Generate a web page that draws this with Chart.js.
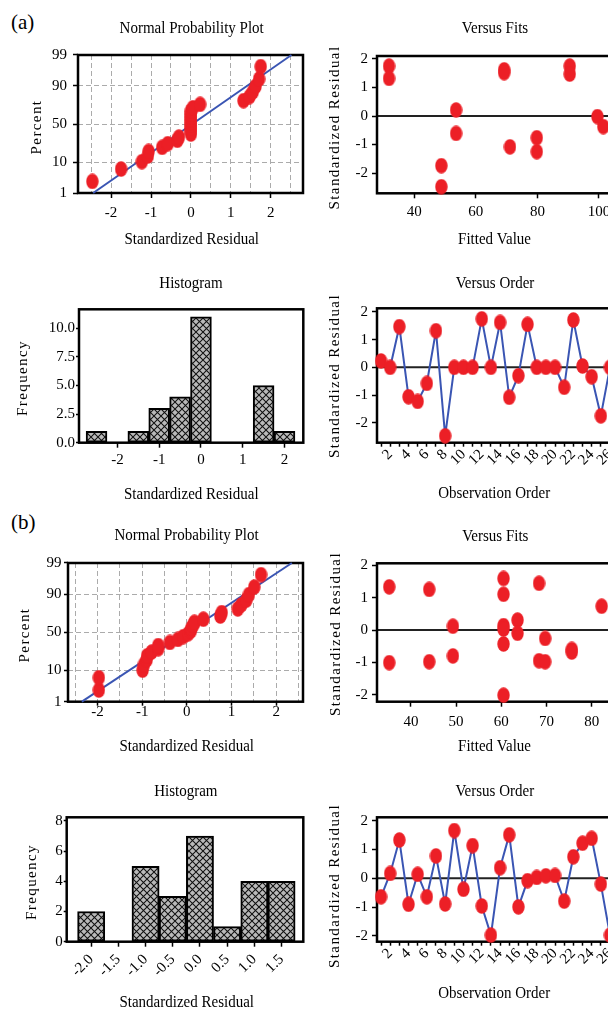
<!DOCTYPE html>
<html><head><meta charset="utf-8">
<script src="https://cdn.jsdelivr.net/npm/chart.js@4.4.1/dist/chart.umd.min.js"></script>
<style>
html,body{margin:0;padding:0;background:#fff;overflow:hidden;}
body{width:608px;height:1010px;position:relative;font-family:"Liberation Serif",serif;}
canvas{position:absolute;}
.pl{position:absolute;font:21px/21px "Liberation Serif",serif;color:#000;}
</style></head><body>
<div class="pl" style="left:11px;top:12px">(a)</div>
<div class="pl" style="left:11px;top:512px">(b)</div>
<script>
// ---------------- data ----------------
const npPercent = [2.65, 6.44, 10.23, 14.02, 17.80, 21.59, 25.38, 29.17, 32.95, 36.74, 40.53, 44.32, 48.11,
                   51.89, 55.68, 59.47, 63.26, 67.05, 70.83, 74.62, 78.41, 82.20, 85.98, 89.77, 93.56, 97.35];
const pctTickValues = [1, 10, 50, 90, 99];
const pctTickLabels = ['1', '10', '50', '90', '99'];
const npXTicks  = [-2.5, -2, -1.5, -1, -0.5, 0, 0.5, 1, 1.5, 2, 2.5];
const npXLabels = ['', '-2', '', '-1', '', '0', '', '1', '', '2', ''];
const resTicks  = [-2, -1, 0, 1, 2];
const resLabels = ['-2', '-1', '0', '1', '2'];
const obsTicks  = [1,2,3,4,5,6,7,8,9,10,11,12,13,14,15,16,17,18,19,20,21,22,23,24,25,26];
const obsLabels = ['','2','','4','','6','','8','','10','','12','','14','','16','','18','','20','','22','','24','','26'];

// (a) normal probability plot
const npA_residual = [-2.47, -1.75, -1.23, -1.08, -1.06, -0.72, -0.58, -0.34, -0.30, 0, 0, 0, 0, 0, 0, 0, 0, 0,
                      0.05, 0.23, 1.32, 1.47, 1.55, 1.62, 1.71, 1.75];
const npA_fitX = [-2.45, 2.52];
const npA_fitPct = [1, 99];
// (a) versus fits
const vfA_fitted   = [31.8, 31.8, 69.2, 69.2, 90.5, 90.5, 53.6, 53.6, 71.1, 79.8, 79.8, 48.8, 48.8, 99.5, 101.4];
const vfA_residual = [1.75, 1.32, 1.62, 1.52, 1.75, 1.47, 0.21, -0.61, -1.08, -0.76, -1.25, -1.74, -2.48, -0.02, -0.37];
const vfA_xTicks = [40, 60, 80, 100];
const vfA_xLabels = ['40', '60', '80', '100'];
// (a) histogram
const histA_bins   = [-2.5, -2, -1.5, -1, -0.5, 0, 0.5, 1, 1.5, 2];
const histA_counts = [1, 0, 1, 3, 4, 11, 0, 0, 5, 1];
const histA_xTicks = [-2, -1, 0, 1, 2];
const histA_xLabels = ['-2', '-1', '0', '1', '2'];
const histA_yTicks = [0, 2.5, 5, 7.5, 10];
const histA_yLabels = ['0.0', '2.5', '5.0', '7.5', '10.0'];
// (a) versus order
const voA_residual = [0.23, 0, 1.47, -1.06, -1.23, -0.58, 1.32, -2.47, 0, 0, 0, 1.75, 0, 1.62, -1.08, -0.30,
                      1.55, 0, 0, 0, -0.72, 1.71, 0.05, -0.34, -1.75, 0];

// (b) normal probability plot
const npB_residual = [-1.97, -1.97, -0.99, -0.96, -0.90, -0.89, -0.79, -0.64, -0.64, -0.38, -0.20, -0.08, 0.03,
                      0.09, 0.10, 0.14, 0.17, 0.37, 0.75, 0.78, 1.14, 1.22, 1.33, 1.39, 1.51, 1.66];
const npB_fitX = [-2.35, 2.35];
const npB_fitPct = [1, 99];
// (b) versus fits
const vfB_fitted   = [35.2, 35.2, 44.05, 44.05, 49.3, 49.3, 60.5, 60.5, 60.5, 60.5, 60.5, 60.5, 63.6, 63.6,
                      68.35, 69.7, 68.35, 69.7, 75.6, 75.6, 82.2];
const vfB_residual = [1.34, -1.01, 1.26, -0.98, 0.12, -0.80, 1.60, 1.11, 0.14, 0.03, -0.43, -2.02, 0.31, -0.10,
                      1.45, -0.26, -0.95, -0.98, -0.60, -0.68, 0.74];
const vfB_xTicks = [40, 50, 60, 70, 80];
const vfB_xLabels = ['40', '50', '60', '70', '80'];
// (b) histogram
const histB_bins   = [-2, -1.5, -1, -0.5, 0, 0.5, 1, 1.5];
const histB_counts = [2, 0, 5, 3, 7, 1, 4, 4];
const histB_xLabels = ['-2.0', '-1.5', '-1.0', '-0.5', '0.0', '0.5', '1.0', '1.5'];
const histB_yTicks = [0, 2, 4, 6, 8];
const histB_yLabels = ['0', '2', '4', '6', '8'];
// (b) versus order
const voB_residual = [-0.64, 0.17, 1.33, -0.90, 0.14, -0.64, 0.78, -0.89, 1.66, -0.38, 1.14, -0.96, -1.97, 0.37,
                      1.51, -0.99, -0.08, 0.03, 0.09, 0.10, -0.79, 0.75, 1.22, 1.39, -0.20, -1.97];

// ---------------- helpers ----------------
const FONT = '"Liberation Serif", "Times New Roman", serif';
const RED = '#ec1f26', BLUE = '#3a55b3';

// inverse normal CDF (probability-plot axis transform)
function probit(p) {
  const a = [-3.969683028665376e+01, 2.209460984245205e+02, -2.759285104469687e+02, 1.383577518672690e+02, -3.066479806614716e+01, 2.506628277459239e+00];
  const b = [-5.447609879822406e+01, 1.615858368580409e+02, -1.556989798598866e+02, 6.680131188771972e+01, -1.328068155288572e+01];
  const c = [-7.784894002430293e-03, -3.223964580411365e-01, -2.400758277161838e+00, -2.549732539343734e+00, 4.374664141464968e+00, 2.938163982698783e+00];
  const d = [7.784695709041462e-03, 3.224671290700398e-01, 2.445134137142996e+00, 3.754408661907416e+00];
  const pl = 0.02425, ph = 1 - pl; let q, r;
  if (p < pl) { q = Math.sqrt(-2 * Math.log(p)); return (((((c[0]*q+c[1])*q+c[2])*q+c[3])*q+c[4])*q+c[5]) / ((((d[0]*q+d[1])*q+d[2])*q+d[3])*q+1); }
  if (p > ph) { q = Math.sqrt(-2 * Math.log(1 - p)); return -(((((c[0]*q+c[1])*q+c[2])*q+c[3])*q+c[4])*q+c[5]) / ((((d[0]*q+d[1])*q+d[2])*q+d[3])*q+1); }
  q = p - 0.5; r = q * q;
  return (((((a[0]*r+a[1])*r+a[2])*r+a[3])*r+a[4])*r+a[5])*q / (((((b[0]*r+b[1])*r+b[2])*r+b[3])*r+b[4])*r+1);
}
const pz = pct => probit(pct / 100);

function ellipseDot(w, h, color) {
  const c = document.createElement('canvas'); c.width = w; c.height = h;
  const g = c.getContext('2d'); g.fillStyle = color;
  g.beginPath(); g.ellipse(w / 2, h / 2, w / 2 - 0.3, h / 2 - 0.3, 0, 0, 2 * Math.PI); g.fill();
  return c;
}
const DOT = ellipseDot(13, 16, RED);

function hatchPattern() {
  const c = document.createElement('canvas'); c.width = 7; c.height = 7;
  const g = c.getContext('2d');
  g.fillStyle = '#b9b9b9'; g.fillRect(0, 0, 7, 7);
  g.strokeStyle = '#111'; g.lineWidth = 1.05;
  g.beginPath(); g.moveTo(-1, -1); g.lineTo(8, 8); g.moveTo(-1, 8); g.lineTo(8, -1); g.stroke();
  return g.createPattern(c, 'repeat');
}
const HATCH = hatchPattern();

const framePlugin = {
  id: 'frame',
  beforeDatasetsDraw(chart, args, opts) {
    const { ctx, chartArea: a } = chart;
    if (opts.zero) {
      const y = chart.scales.y.getPixelForValue(0);
      ctx.save(); ctx.strokeStyle = '#222'; ctx.lineWidth = 2;
      ctx.beginPath(); ctx.moveTo(a.left, y); ctx.lineTo(a.right, y); ctx.stroke(); ctx.restore();
    }
    ctx.save(); ctx.strokeStyle = '#000'; ctx.lineWidth = 2.5;
    ctx.strokeRect(a.left, a.top, a.right - a.left, a.bottom - a.top); ctx.restore();
  }
};
const textPlugin = {
  id: 'txt',
  afterDraw(chart, args, opts) {
    const ctx = chart.ctx;
    (opts.items || []).forEach(it => {
      ctx.save();
      ctx.font = (it.size || 15) + 'px ' + FONT;
      ctx.fillStyle = '#000'; ctx.textAlign = 'center'; ctx.textBaseline = 'middle';
      if ('letterSpacing' in ctx) ctx.letterSpacing = (it.ls || 0) + 'px';
      ctx.translate(it.x - opts.ox, it.y - opts.oy);
      if (it.rot) ctx.rotate(it.rot); else ctx.scale(1, 1.18);
      ctx.fillText(it.text, 0, 0);
      ctx.restore();
    });
  }
};

function axis(o, isX, P) {
  return {
    type: 'linear', min: o.min, max: o.max, offset: false,
    afterBuildTicks: sc => { sc.ticks = o.ticks.map(v => ({ value: o.map ? o.map(v) : v })); },
    afterFit: sc => { if (isX) sc.height = P.box.t + P.box.h - P.plot.B; else sc.width = P.plot.L - P.box.l; },
    ticks: {
      autoSkip: false, includeBounds: false, minRotation: o.rot || 0, maxRotation: o.rot || 0,
      padding: o.pad, color: '#000',
      font: { family: FONT, size: 15, lineHeight: o.rot ? 0.1 : 1.2 },
      callback: (v, i) => o.labels[i]
    },
    grid: {
      display: true, offset: false, drawOnChartArea: !!o.dash, drawTicks: true, tickLength: o.tl,
      color: o.dash ? '#ababab' : 'rgba(0,0,0,0)', lineWidth: 1,
      tickColor: ctx => (o.labels[ctx.index] !== '' || o.allMarks) ? '#000' : 'rgba(0,0,0,0)',
      tickWidth: 1.5, tickBorderDash: []
    },
    border: { display: false, dash: o.dash ? [5, 3] : [] }
  };
}

function make(P) {
  const cv = document.createElement('canvas');
  cv.width = P.box.w; cv.height = P.box.h;
  cv.style.left = P.box.l + 'px'; cv.style.top = P.box.t + 'px';
  document.body.appendChild(cv);
  new Chart(cv.getContext('2d'), {
    type: P.type,
    data: { datasets: P.datasets },
    options: {
      responsive: false, animation: false, events: [],
      layout: { padding: { left: 0, bottom: 0, top: P.plot.T - P.box.t, right: P.box.l + P.box.w - P.plot.R } },
      scales: { x: axis(P.x, true, P), y: axis(P.y, false, P) },
      plugins: {
        legend: { display: false }, tooltip: { enabled: false }, title: { display: false },
        frame: { zero: !!P.zero },
        txt: { ox: P.box.l, oy: P.box.t, items: P.texts }
      }
    },
    plugins: [framePlugin, textPlugin]
  });
}

const dotDS = (xs, ys) => ({
  data: xs.map((x, i) => ({ x, y: ys[i] })), showLine: false, clip: false,
  pointStyle: DOT, pointRadius: 7, pointHoverRadius: 7, borderWidth: 0, backgroundColor: RED
});
const npDots = (res) => ({
  data: res.map((x, i) => ({ x, y: pz(npPercent[i]) })), showLine: false, clip: false,
  pointStyle: DOT, pointRadius: 7, pointHoverRadius: 7, borderWidth: 0, backgroundColor: RED
});
const fitLine = (xs, ps) => ({
  data: xs.map((x, i) => ({ x, y: pz(ps[i]) })), showLine: true, clip: false,
  pointRadius: 0, borderColor: BLUE, borderWidth: 2
});
const orderDS = (ys) => ({
  data: obsTicks.map((x, i) => ({ x, y: ys[i] })), showLine: true, clip: false, tension: 0,
  borderColor: BLUE, borderWidth: 2,
  pointStyle: DOT, pointRadius: 7, pointHoverRadius: 7, pointBorderWidth: 0, pointBackgroundColor: RED
});
const histDS = (bins, counts) => ({
  data: bins.map((x, i) => ({ x, y: counts[i] })), backgroundColor: HATCH,
  borderColor: '#000', borderWidth: 2, borderSkipped: false, barPercentage: 1, categoryPercentage: 1
});
const yTitle = (text, x, y) => ({ text, x, y, rot: -Math.PI / 2, ls: 1.4 });

// ---------------- panels ----------------
// (a) Normal probability plot
make({
  type: 'scatter', box: { l: 0, t: 0, w: 310, h: 255 }, plot: { L: 78, T: 55, R: 303, B: 193 },
  datasets: [npDots(npA_residual), fitLine(npA_fitX, npA_fitPct)],
  x: { min: -2.83, max: 2.81, ticks: npXTicks, labels: npXLabels, tl: 5, pad: 6, dash: true },
  y: { min: -2.3263, max: 2.3263, ticks: pctTickValues, map: pz, labels: pctTickLabels, tl: 5, pad: 6, dash: true },
  texts: [{ text: 'Normal Probability Plot', x: 191.7, y: 28.5 }, { text: 'Standardized Residual', x: 191.7, y: 239 },
          yTitle('Percent', 37, 127)]
});
// (a) Versus fits
make({
  type: 'scatter', box: { l: 312, t: 0, w: 320, h: 255 }, plot: { L: 377, T: 56, R: 623.6, B: 193.3 }, zero: true,
  datasets: [dotDS(vfA_fitted, vfA_residual)],
  x: { min: 27.9, max: 108, ticks: vfA_xTicks, labels: vfA_xLabels, tl: 5, pad: 5 },
  y: { min: -2.71, max: 2.105, ticks: resTicks, labels: resLabels, tl: 5, pad: 4 },
  texts: [{ text: 'Versus Fits', x: 495, y: 28 }, { text: 'Fitted Value', x: 494.5, y: 239 },
          yTitle('Standardized Residual', 335, 127.5)]
});
// (a) Histogram
make({
  type: 'bar', box: { l: 0, t: 255, w: 310, h: 250 }, plot: { L: 79, T: 309.3, R: 303.3, B: 442.7 },
  datasets: [histDS(histA_bins, histA_counts)],
  x: { min: -2.92, max: 2.45, ticks: histA_xTicks, labels: histA_xLabels, tl: 5, pad: 3 },
  y: { min: 0, max: 11.66, ticks: histA_yTicks, labels: histA_yLabels, tl: 3, pad: 1 },
  texts: [{ text: 'Histogram', x: 191, y: 283.3 }, { text: 'Standardized Residual', x: 191.3, y: 494.5 },
          yTitle('Frequency', 23, 378)]
});
// (a) Versus order
make({
  type: 'scatter', box: { l: 312, t: 255, w: 320, h: 250 }, plot: { L: 377, T: 308.3, R: 614.1, B: 442.7 }, zero: true,
  datasets: [orderDS(voA_residual)],
  x: { min: 0.56, max: 26.45, ticks: obsTicks, labels: obsLabels, rot: 45, tl: 4, pad: 5, allMarks: true },
  y: { min: -2.72, max: 2.13, ticks: resTicks, labels: resLabels, tl: 5, pad: 4 },
  texts: [{ text: 'Versus Order', x: 495, y: 283.3 }, { text: 'Observation Order', x: 494.2, y: 493.3 },
          yTitle('Standardized Residual', 335, 376)]
});
// (b) Normal probability plot
make({
  type: 'scatter', box: { l: 0, t: 505, w: 310, h: 255 }, plot: { L: 68, T: 563, R: 303.3, B: 701.7 },
  datasets: [npDots(npB_residual), fitLine(npB_fitX, npB_fitPct)],
  x: { min: -2.66, max: 2.6, ticks: npXTicks, labels: npXLabels, tl: 4, pad: -2.5, dash: true },
  y: { min: -2.3263, max: 2.3263, ticks: pctTickValues, map: pz, labels: pctTickLabels, tl: 4, pad: 2.5, dash: true },
  texts: [{ text: 'Normal Probability Plot', x: 186.5, y: 535 }, { text: 'Standardized Residual', x: 186.7, y: 746 },
          yTitle('Percent', 25, 635)]
});
// (b) Versus fits
make({
  type: 'scatter', box: { l: 312, t: 505, w: 320, h: 255 }, plot: { L: 377, T: 563.3, R: 618.8, B: 701.7 }, zero: true,
  datasets: [dotDS(vfB_fitted, vfB_residual)],
  x: { min: 32.5, max: 86, ticks: vfB_xTicks, labels: vfB_xLabels, tl: 5, pad: 6 },
  y: { min: -2.22, max: 2.07, ticks: resTicks, labels: resLabels, tl: 5, pad: 4 },
  texts: [{ text: 'Versus Fits', x: 495.3, y: 536 }, { text: 'Fitted Value', x: 494.5, y: 746 },
          yTitle('Standardized Residual', 336, 634)]
});
// (b) Histogram
make({
  type: 'bar', box: { l: 0, t: 760, w: 310, h: 250 }, plot: { L: 66.7, T: 817.3, R: 303.3, B: 941.7 },
  datasets: [histDS(histB_bins, histB_counts)],
  x: { min: -2.45, max: 1.9, ticks: histB_bins, labels: histB_xLabels, rot: 45, tl: 5, pad: 10 },
  y: { min: 0, max: 8.24, ticks: histB_yTicks, labels: histB_yLabels, tl: 3, pad: 1 },
  texts: [{ text: 'Histogram', x: 185.8, y: 791.7 }, { text: 'Standardized Residual', x: 186.7, y: 1002.5 },
          yTitle('Frequency', 32, 882)]
});
// (b) Versus order
make({
  type: 'scatter', box: { l: 312, t: 760, w: 320, h: 250 }, plot: { L: 377, T: 817.3, R: 614.1, B: 941.7 }, zero: true,
  datasets: [orderDS(voB_residual)],
  x: { min: 0.56, max: 26.45, ticks: obsTicks, labels: obsLabels, rot: 45, tl: 4, pad: 5, allMarks: true },
  y: { min: -2.2, max: 2.12, ticks: resTicks, labels: resLabels, tl: 5, pad: 4 },
  texts: [{ text: 'Versus Order', x: 494.8, y: 791.7 }, { text: 'Observation Order', x: 494.2, y: 993.3 },
          yTitle('Standardized Residual', 335, 886)]
});
</script></body></html>
